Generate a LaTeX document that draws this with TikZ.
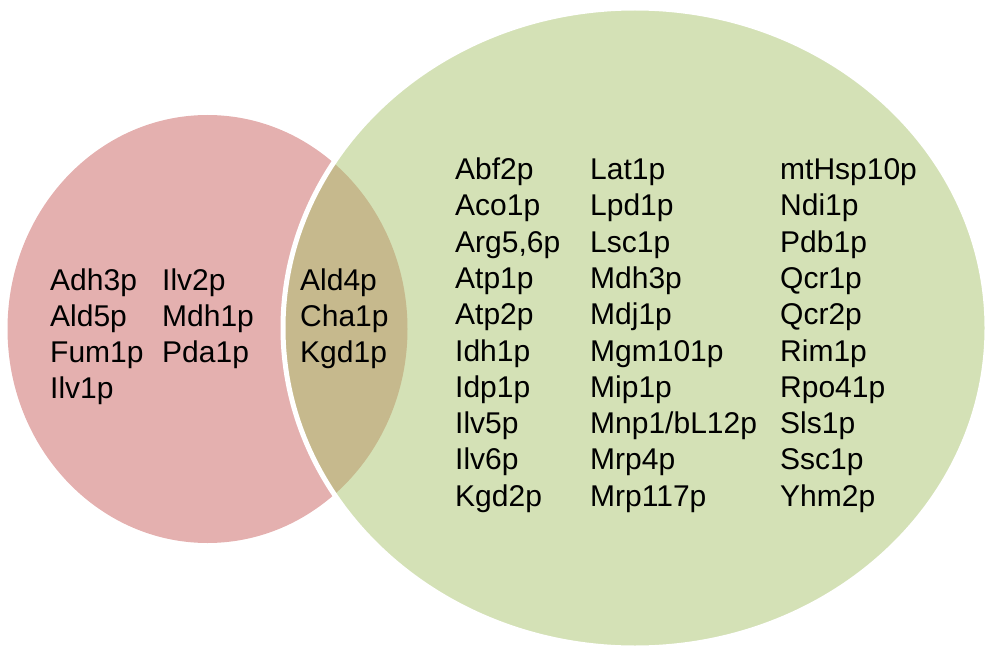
\documentclass[tikz,border=0pt]{standalone}
\usepackage{fontspec}
\setmainfont{Liberation Sans}
\definecolor{setpink}{HTML}{E4B0AF}
\definecolor{setgreen}{HTML}{D4E1B6}
\definecolor{settan}{HTML}{C6B98D}
\begin{document}
\begin{tikzpicture}[x=1pt,y=-1pt,
  lbl/.style={anchor=base west,inner sep=0pt,font=\fontsize{30}{36}\selectfont}]
\useasboundingbox (0,0) rectangle (988,650);
% the two sets
\fill[setpink] (207.5,329) ellipse [x radius=200, y radius=214];
\fill[setgreen] (635,328) ellipse [x radius=352, y radius=320];
% overlap
\begin{scope}
  \clip (207.5,329) ellipse [x radius=200, y radius=214];
  \fill[settan] (635,328) ellipse [x radius=352, y radius=320];
\end{scope}
% white rim of the green set
\draw[white,line width=5] (635,328) ellipse [x radius=352, y radius=320];

% pink-only members
\foreach \t [count=\i] in {Adh3p,Ald5p,Fum1p,Ilv1p}
  \node[lbl] (pa\i) at (50,{290+(\i-1)*36.3}) {\t};
\foreach \t [count=\i] in {Ilv2p,Mdh1p,Pda1p}
  \node[lbl] (pb\i) at (162,{290+(\i-1)*36.3}) {\t};
% shared members
\foreach \t [count=\i] in {Ald4p,Cha1p,Kgd1p}
  \node[lbl] (s\i) at (300,{290+(\i-1)*36.3}) {\t};
% green-only members
\foreach \t [count=\i] in {Abf2p,Aco1p,{Arg5,6p},Atp1p,Atp2p,Idh1p,Idp1p,Ilv5p,Ilv6p,Kgd2p}
  \node[lbl] (ga\i) at (455,{179.5+(\i-1)*36.3}) {\t};
\foreach \t [count=\i] in {Lat1p,Lpd1p,Lsc1p,Mdh3p,Mdj1p,Mgm101p,Mip1p,Mnp1/bL12p,Mrp4p,Mrp117p}
  \node[lbl] (gb\i) at (590,{179.5+(\i-1)*36.3}) {\t};
\foreach \t [count=\i] in {mtHsp10p,Ndi1p,Pdb1p,Qcr1p,Qcr2p,Rim1p,Rpo41p,Sls1p,Ssc1p,Yhm2p}
  \node[lbl] (gc\i) at (780,{179.5+(\i-1)*36.3}) {\t};
\end{tikzpicture}
\end{document}
